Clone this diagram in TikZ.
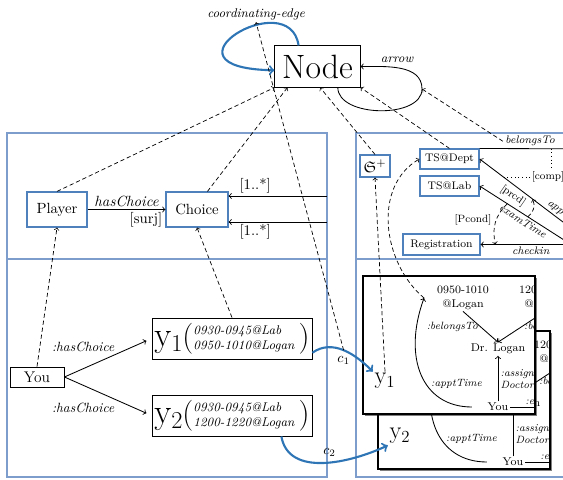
\documentclass[tikz,border=0pt]{standalone}
\usepackage[]{amsmath}
\usepackage{amssymb}
\usepackage{tikz}
\usetikzlibrary{positioning}
\usetikzlibrary{positioning,shapes,shadows}

\definecolor{panelblue}{RGB}{125,158,205}
\definecolor{boxblue}{RGB}{79,129,189}
\definecolor{edgeblue}{RGB}{46,117,182}

\newcommand{\ychoice}[3]{$\mathrm{y}_{#1}$\hspace{-0.5pt}{\fontsize{22}{22}\selectfont(}\raisebox{2.5pt}{\fontsize{9}{10.5}\selectfont\itshape\begin{tabular}{@{}l@{}}#2\\#3\end{tabular}}\hspace{3pt}{\fontsize{22}{22}\selectfont)}}

\tikzset{
  panel/.style={draw=panelblue, line width=0.8pt},
  softshadow/.style={drop shadow={shadow xshift=0.9pt, shadow yshift=-0.9pt, opacity=0.3, fill=black}},
  metabox/.style={draw, fill=white, line width=0.7pt, inner sep=1pt, minimum width=60.5pt, minimum height=29.2pt, font=\fontsize{24}{24}\selectfont, softshadow},
  classbox/.style={draw=boxblue, fill=white, line width=0.8pt, inner sep=1pt, minimum width=42.7pt, minimum height=24.9pt, font=\fontsize{10.5}{12}\selectfont, softshadow},
  tsbox/.style={draw=boxblue, fill=white, line width=0.8pt, inner sep=1pt, minimum width=42pt, minimum height=14.2pt, font=\fontsize{7.8}{9}\selectfont, softshadow},
  plainbox/.style={draw, fill=white, line width=0.6pt, inner sep=1pt, minimum width=38.4pt, minimum height=14.2pt, font=\fontsize{11}{12}\selectfont, softshadow},
  choicebox/.style={draw, fill=white, line width=0.6pt, inner sep=1pt, minimum width=113.8pt, minimum height=29.2pt, font=\fontsize{26}{26}\selectfont, softshadow},
  worldframe/.style={draw, fill=white, line width=1.4pt, inner sep=0pt, minimum width=122.3pt, minimum height=98.2pt, drop shadow={shadow xshift=1.2pt, shadow yshift=-1.2pt, opacity=0.5, fill=black}},
  inst/.style={font=\fontsize{8}{9.5}\selectfont, align=center, inner sep=1pt},
  rel/.style={font=\fontsize{7.5}{8.5}\selectfont\itshape, inner sep=1.5pt},
  lbl/.style={font=\fontsize{10.5}{12}\selectfont, inner sep=1.5pt},
  tslbl/.style={font=\fontsize{7.8}{9}\selectfont\itshape, inner sep=1.5pt},
  cond/.style={font=\fontsize{7.5}{9}\selectfont, inner sep=1pt},
  ylab/.style={font=\fontsize{17}{17}\selectfont, inner sep=1pt},
  dep/.style={->, densely dashed, line width=0.5pt},
  blueedge/.style={->, draw=edgeblue, line width=1.5pt},
}

\begin{document}
\begin{tikzpicture}[x=0.025cm, y=0.025cm, line width=0.6pt]
\clip (0,0) rectangle (563,479);

% the four panels
\draw[panel] (7,220) rectangle (327,346);
\draw[panel] (7,2) rectangle (327,220);
\draw[panel] (356,220) rectangle (600,346);
\draw[panel] (356,2) rectangle (600,220);

% meta level
\node[metabox] (node) at (317.5,412.5) {Node};
\node[rel, font=\fontsize{9}{10}\selectfont\itshape] (coordlab) at (256,465) {coordinating-edge};
\node[rel, font=\fontsize{9}{10}\selectfont\itshape] (arrowlab) at (397,419) {arrow};
\draw[blueedge] (node.132) .. controls +(-9,62) and +(-125,2) .. (node.185);
\draw[->] (node.-46) .. controls +(0,-30) and +(0,-30) .. (422,390) coordinate (loopr)
  .. controls +(0,25) and +(25,0) .. (node.east);

% game schema
\node[classbox] (player) at (57,269.5) {Player};
\node[classbox, minimum width=44.1pt] (choice) at (197,269.5) {Choice};
\draw[->] (player) -- node[lbl, above, font=\fontsize{10.5}{12}\selectfont\itshape] {hasChoice} node[lbl, below, pos=0.75] {[surj]} (choice);
\coordinate (m1) at (327,283);
\coordinate (m2) at (327,257);
\draw[->] (m1) -- node[lbl, above, pos=0.73] {[1..*]} (choice.east |- m1);
\draw[->] (m2) -- node[lbl, below, pos=0.73] {[1..*]} (choice.east |- m2);
\draw[dep] (player.north) -- (node.south west);
\draw[dep] (choice.60) -- (node.215);

% game instance
\node[plainbox] (you) at (37,102) {You};
\node[choicebox] (y1) at (232,140.5) {\ychoice{1}{0930-0945@Lab}{0950-1010@Logan}};
\node[choicebox] (y2) at (232,63.5) {\ychoice{2}{0930-0945@Lab}{1200-1220@Logan}};
\draw[->, shorten >=4pt] (you.east) -- node[rel, above left, pos=0.6, font=\fontsize{9.5}{11}\selectfont\itshape] {:hasChoice} (y1.west);
\draw[->, shorten >=4pt] (you.east) -- node[rel, below left, pos=0.6, font=\fontsize{9.5}{11}\selectfont\itshape] {:hasChoice} (y2.west);
\draw[dep] (you.north) -- (player.south);
\draw[dep] (y1.north) -- (choice.south);

% scheduling schema
\node[classbox, minimum width=21.3pt, minimum height=15.6pt, font=\fontsize{11}{12}\selectfont] (gplus) at (375,313) {$\mathfrak{S}^{+}$};
\node[tsbox] (tsdept) at (449.5,320) {TS@Dept};
\node[tsbox] (tslab) at (449.5,293) {TS@Lab};
\node[tsbox, minimum width=54.8pt, minimum height=15pt] (registration) at (441.5,234.5) {Registration};
\draw[dep] (gplus.north) -- (node.277);
\draw[dep] (tsdept.north) -- (node.south east);

\coordinate (btend) at (600,330);
\coordinate (apptend) at (600,229);
\coordinate (examend) at (600,216);
\coordinate (checkend) at (600,234.5);
\draw (tsdept.north east) -- node[tslbl, above, pos=0.42] (belongs) {belongsTo} coordinate[pos=0.6] (btc) (btend);
\draw[<-] (tsdept.east) -- node[tslbl, sloped, above, pos=0.7] {apptTime} coordinate[pos=0.2] (apc) coordinate[pos=0.44] (apb) (apptend);
\draw[<-] (tslab.east) -- node[tslbl, sloped, below, pos=0.39] {examTime} coordinate[pos=0.23] (exa) coordinate[pos=0.4] (exb) (examend);
\draw[<-] (registration.east) -- node[tslbl, below, pos=0.42] {checkin} coordinate[pos=0.125] (cka) (checkend);
\draw[dep] (belongs.west) -- (loopr);

\node[cond, anchor=west] (comp) at (530,302) {[comp]};
\draw[dotted] (btc) -- (btc |- comp.north);
\draw[dotted] (comp.west) -- (apc |- comp.west);
\node[cond, rotate=-35] (prcd) at (513,283) {[prcd]};
\draw[dep] (exb) to[bend right=40] (apb);
\node[cond] (pcond) at (473,259) {[Pcond]};
\draw[dep] (exa) to[bend right=30] (cka);

% scheduling instances
\foreach \k/\dx/\dy in {2/15/-55, 1/0/0} {
  \begin{scope}[shift={(\dx,\dy)}]
    \node[worldframe] (f\k) at (449,134) {};
    \begin{scope}
      \clip (f\k.south west) rectangle (f\k.north east);
      \node[inst] (ta\k) at (463,181) {0950-1010\\@Logan};
      \node[inst] (tb\k) at (545,181) {1200-1220\\@Logan};
      \node[inst] (doc\k) at (498,130) {Dr. Logan};
      \node[inst] (you\k) at (498,72) {You};
      \coordinate[left=8pt of ta\k.west] (tin\k);
      \coordinate[right=60pt of you\k.east] (out\k);
      \draw[->] (ta\k.south) -- node[rel, left] {:belongsTo} (doc\k.north);
      \draw[->] (tb\k.south) -- node[rel, right] {:belongsTo} (doc\k.north);
      \draw[->] (you\k.north) -- node[rel, right, align=left] {:assigned\\Doctor} (doc\k.south);
      \draw (you\k.east) -- node[rel, above right, pos=0.15] {:examTime} (out\k);
      \draw[->, shorten <=10pt] (you\k.west) to[out=180, in=250, looseness=1.3] node[rel, right, pos=0.42] {:apptTime} (tin\k);
    \end{scope}
    \node[ylab] (lab\k) at (385,98) {$\mathrm{y}_{\k}$};
  \end{scope}
}

\draw[dep] (tin1) to[out=140, in=210] (tsdept.west);
\draw[dep] (lab1.north) -- (gplus.south);

% coordinating edges
\draw[blueedge] (y1.-10) to[out=35, in=135] node[below, pos=0.5] (c1) {$c_1$} coordinate[pos=0.5] (c1pt) (lab1.north west);
\draw[blueedge] (y2.-23) to[out=-80, in=205] node[above, pos=0.55] (c2) {$c_2$} (lab2.south west);
\draw[dep] (c1pt) -- (coordlab.south);
\end{tikzpicture}
\end{document}
